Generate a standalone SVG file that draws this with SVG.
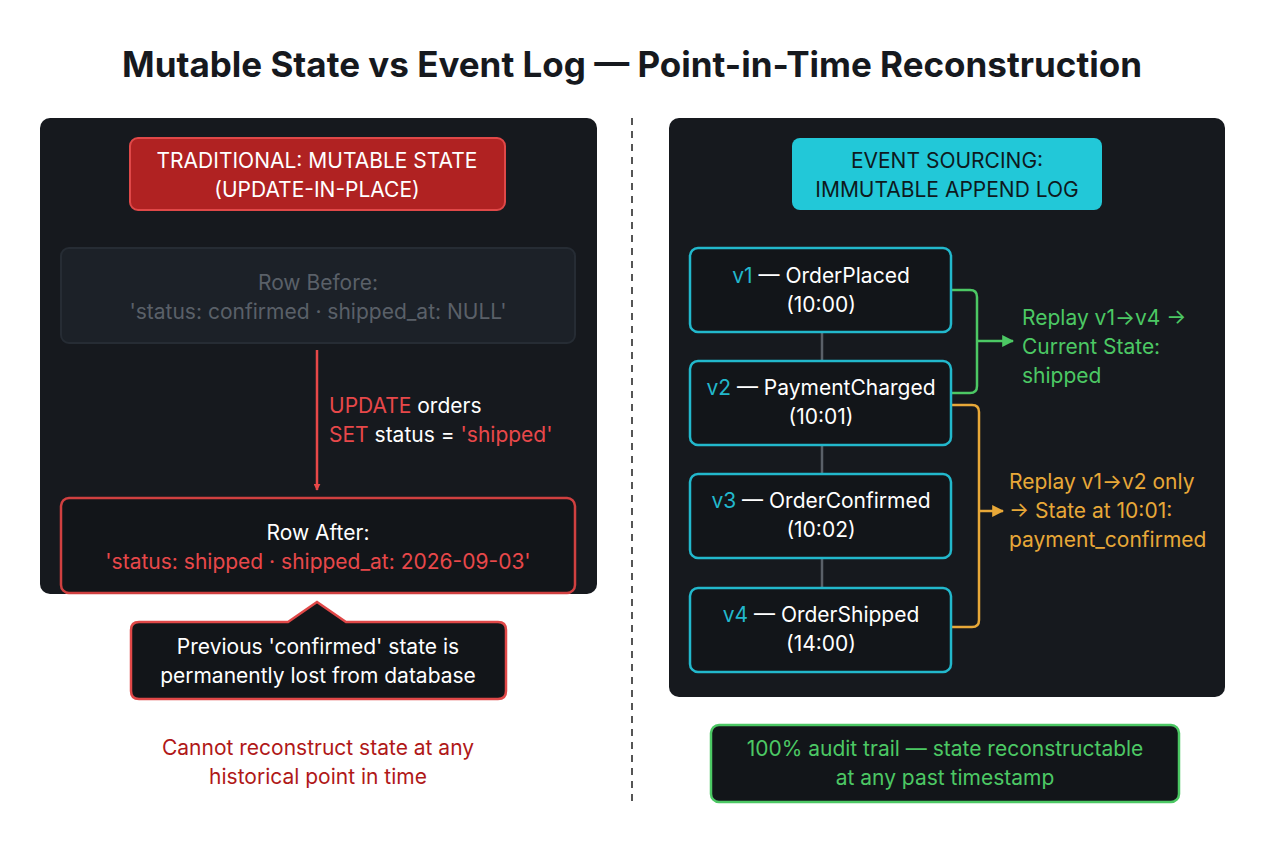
<svg xmlns="http://www.w3.org/2000/svg" width="1264" height="848" viewBox="0 0 1264 848">
<style>
text{font-family:Inter,"Liberation Sans",sans-serif;font-size:21px;text-anchor:middle}
.w{fill:#ffffff}.r{fill:#e8484a}.g{fill:#4cc864;text-anchor:start}.o{fill:#e8a838;text-anchor:start}.c{fill:#22b8cc}
.ev{fill:#121519;stroke:#22b8cc;stroke-width:2.5}
</style>
<defs>
<marker id="ar" viewBox="0 0 10 10" refX="9" refY="5" markerWidth="7" markerHeight="7" orient="auto" markerUnits="userSpaceOnUse"><path d="M0,0L10,5L0,10z" fill="#e84848"/></marker>
<marker id="ag" viewBox="0 0 10 10" refX="9" refY="5" markerWidth="12" markerHeight="12" orient="auto" markerUnits="userSpaceOnUse"><path d="M0,0L10,5L0,10z" fill="#4cc864"/></marker>
<marker id="ao" viewBox="0 0 10 10" refX="9" refY="5" markerWidth="12" markerHeight="12" orient="auto" markerUnits="userSpaceOnUse"><path d="M0,0L10,5L0,10z" fill="#e8a838"/></marker>
</defs>
<rect width="1264" height="848" fill="#ffffff"/>
<text x="632" y="77" style="font-size:35px;font-weight:700;fill:#16191e">Mutable State vs Event Log — Point-in-Time Reconstruction</text>
<line x1="632" y1="118" x2="632" y2="806" stroke="#555" stroke-width="2" stroke-dasharray="7,6"/>
<rect x="40" y="118" width="557" height="476" rx="10" fill="#16191e"/>
<rect x="669" y="118" width="556" height="579" rx="10" fill="#16191e"/>
<g id="connectors">
<line x1="317" y1="350" x2="317" y2="490" stroke="#e84848" stroke-width="2.5" marker-end="url(#ar)"/>
<line x1="822" y1="332" x2="822" y2="588" stroke="#5a6068" stroke-width="2.5"/>
<path d="M951,290H970q7,0 7,7V386q0,7 -7,7H951M977,341H1013" fill="none" stroke="#4cc864" stroke-width="2.5" marker-end="url(#ag)"/>
<path d="M951,405H972q7,0 7,7V620q0,7 -7,7H951M979,511H1003" fill="none" stroke="#e8a838" stroke-width="2.5" marker-end="url(#ao)"/>
</g>
<g id="left-title"><rect x="130" y="138" width="375" height="72" rx="8" fill="#b02222" stroke="#e04848" stroke-width="2"/>
<text x="317" y="168" class="w">TRADITIONAL: MUTABLE STATE</text><text x="317" y="197" class="w">(UPDATE-IN-PLACE)</text></g>
<g id="row-before"><rect x="61" y="248" width="514" height="95" rx="8" fill="#1c2128" stroke="#262c34" stroke-width="2"/>
<text x="318" y="290" fill="#5a6068">Row Before:</text><text x="318" y="319" fill="#5a6068">'status: confirmed  ·  shipped_at: NULL'</text></g>
<g id="update-label"><text x="329" y="413" style="text-anchor:start"><tspan class="r">UPDATE</tspan><tspan class="w"> orders</tspan></text>
<text x="329" y="442" style="text-anchor:start"><tspan class="r">SET</tspan><tspan class="w"> status = </tspan><tspan class="r">'shipped'</tspan></text></g>
<g id="row-after"><rect x="61" y="498" width="514" height="95" rx="8" fill="#121519" stroke="#d04040" stroke-width="2.5"/>
<text x="318" y="540" class="w">Row After:</text><text x="318" y="569" class="r">'status: shipped  ·  shipped_at: 2026-09-03'</text></g>
<g id="callout"><path d="M139,622H288L317,602L346,622H498q8,0 8,8V691q0,8 -8,8H139q-8,0 -8,-8V630q0,-8 8,-8z" fill="#121519" stroke="#e04848" stroke-width="2.5"/>
<text x="318" y="654" class="w">Previous 'confirmed' state is</text><text x="318" y="683" class="w">permanently lost from database</text></g>
<g id="left-note"><text x="318" y="755" fill="#b01818">Cannot reconstruct state at any</text><text x="318" y="784" fill="#b01818">historical point in time</text></g>
<g id="right-title"><rect x="792" y="138" width="310" height="72" rx="8" fill="#22c8d8"/>
<text x="947" y="168" fill="#0e1a1e">EVENT SOURCING:</text><text x="947" y="197" fill="#0e1a1e">IMMUTABLE APPEND LOG</text></g>
<g id="v1"><rect class="ev" x="690" y="248" width="261" height="84" rx="8"/><text x="821" y="283"><tspan class="c">v1</tspan><tspan class="w"> — OrderPlaced</tspan></text><text x="821" y="312" class="w">(10:00)</text></g>
<g id="v2"><rect class="ev" x="690" y="361" width="261" height="84" rx="8"/><text x="821" y="395"><tspan class="c">v2</tspan><tspan class="w"> — PaymentCharged</tspan></text><text x="821" y="424" class="w">(10:01)</text></g>
<g id="v3"><rect class="ev" x="690" y="474" width="261" height="84" rx="8"/><text x="821" y="508"><tspan class="c">v3</tspan><tspan class="w"> — OrderConfirmed</tspan></text><text x="821" y="537" class="w">(10:02)</text></g>
<g id="v4"><rect class="ev" x="690" y="588" width="261" height="84" rx="8"/><text x="821" y="622"><tspan class="c">v4</tspan><tspan class="w"> — OrderShipped</tspan></text><text x="821" y="651" class="w">(14:00)</text></g>
<g id="green-label"><text x="1022" y="325" class="g">Replay v1→v4 →</text><text x="1022" y="354" class="g">Current State:</text><text x="1022" y="383" class="g">shipped</text></g>
<g id="orange-label"><text x="1009" y="489" class="o">Replay v1→v2 only</text><text x="1009" y="518" class="o">→ State at 10:01:</text><text x="1009" y="547" class="o">payment_confirmed</text></g>
<g id="bottom-note"><rect x="711" y="725" width="468" height="77" rx="8" fill="#121519" stroke="#4cc864" stroke-width="2.5"/>
<text x="945" y="756" fill="#4cc864">100% audit trail — state reconstructable</text><text x="945" y="785" fill="#4cc864">at any past timestamp</text></g>
</svg>
